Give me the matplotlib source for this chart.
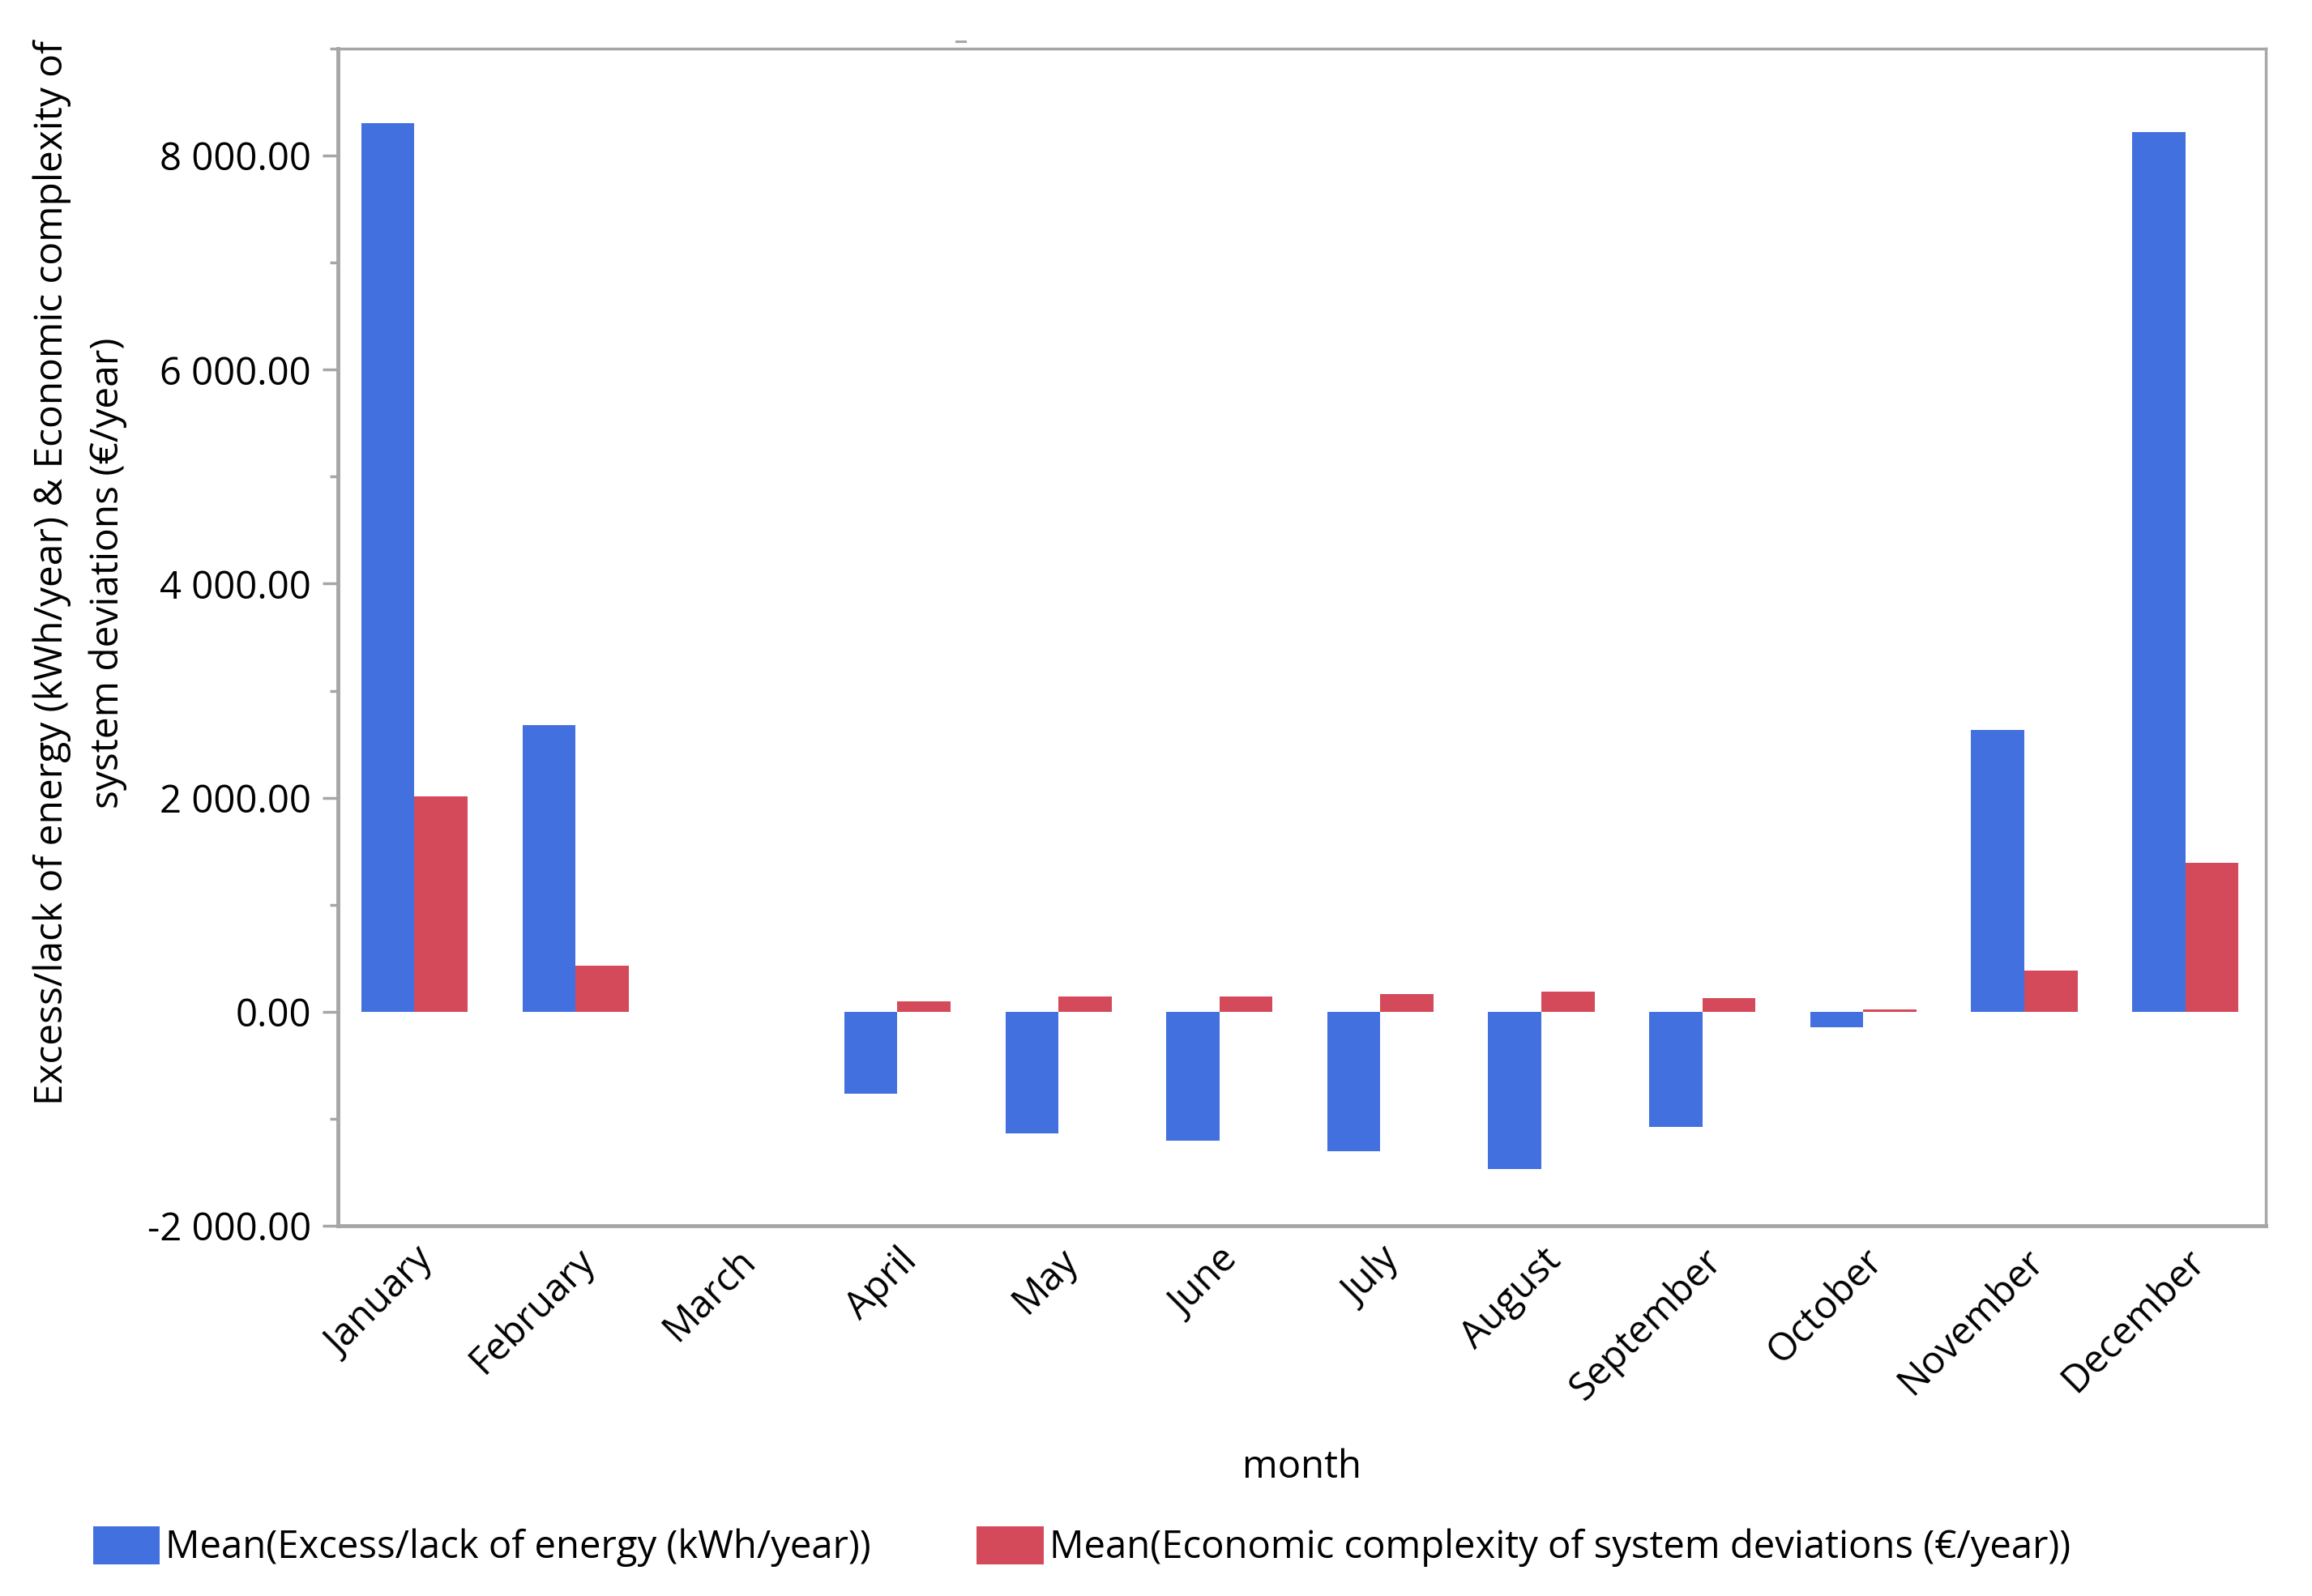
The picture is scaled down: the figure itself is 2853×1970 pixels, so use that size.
import numpy as np
import matplotlib
matplotlib.use("Agg")
import matplotlib.pyplot as plt
from matplotlib.ticker import FuncFormatter, MultipleLocator
from matplotlib.patches import Patch
from matplotlib.lines import Line2D

plt.rcParams['font.family'] = ['Open Sans', 'DejaVu Sans']

# data
months = ['January', 'February', 'March', 'April', 'May', 'June', 'July',
          'August', 'September', 'October', 'November', 'December']
energy = [8303, 2676, 0.0, -768, -1134, -1202, -1305, -1474, -1077, -148, 2634, 8221]
cost = [2014, 428, 0.0, 95, 146, 146, 164, 186, 125, 20, 386, 1393]

blue = '#4271df'
red = '#d54a5a'
grey = '#a6a6a6'
fs = 34

fig = plt.figure(figsize=(28.53, 19.70), dpi=100)
ax = fig.add_axes([0.1462, 0.232, 0.8338, 0.7375])

x = np.arange(len(months))
w = 0.33
ax.bar(x - w / 2, energy, w, color=blue, linewidth=0)
ax.bar(x + w / 2, cost, w, color=red, linewidth=0)

ax.set_xlim(-0.475, len(months) - 0.5)
ax.set_ylim(-2000, 9000)
ax.yaxis.set_major_locator(MultipleLocator(2000))
ax.yaxis.set_minor_locator(MultipleLocator(1000))


def fmt(v, pos):
    s = f"{abs(v):,.2f}".replace(",", " ")
    return ("-" if v < 0 else "") + s


ax.yaxis.set_major_formatter(FuncFormatter(fmt))
ax.tick_params(axis='y', which='major', length=14, width=2.5, color=grey,
               labelsize=fs, pad=10)
ax.tick_params(axis='y', which='minor', length=7, width=2.5, color=grey)
ax.set_xticks(x)
ax.set_xticklabels(months, rotation=45, ha='right', rotation_mode='anchor',
                   fontsize=fs)
ax.tick_params(axis='x', length=0, pad=14)

for side in ['left', 'bottom']:
    ax.spines[side].set_color(grey)
    ax.spines[side].set_linewidth(3.5)
for side in ['top', 'right']:
    ax.spines[side].set_color(grey)
    ax.spines[side].set_linewidth(2.5)

ax.set_xlabel('month', fontsize=fs, labelpad=36)

fig.text(0.0225, 0.641, 'Excess/lack of energy (kWh/year) & Economic complexity of',
         rotation=90, ha='center', va='center', fontsize=34.5)
fig.text(0.0466, 0.641, 'system deviations (€/year)',
         rotation=90, ha='center', va='center', fontsize=34.5)

# small grey dash above the frame
fig.add_artist(Line2D([0.4136, 0.4175], [0.9739, 0.9739], color=grey,
                      linewidth=2.2, transform=fig.transFigure))

handles = [Patch(facecolor=blue, edgecolor='none'),
           Patch(facecolor=red, edgecolor='none')]
labels = ['Mean(Excess/lack of energy (kWh/year))',
          'Mean(Economic complexity of system deviations (€/year))']
fig.legend(handles, labels, loc='center left', bbox_to_anchor=(0.0336, 0.031),
           ncol=2, frameon=False, fontsize=fs, handlelength=1.75,
           handleheight=1.15, handletextpad=0.15, columnspacing=2.75,
           borderaxespad=0)

fig.savefig('out.png', dpi=100, facecolor='white')
